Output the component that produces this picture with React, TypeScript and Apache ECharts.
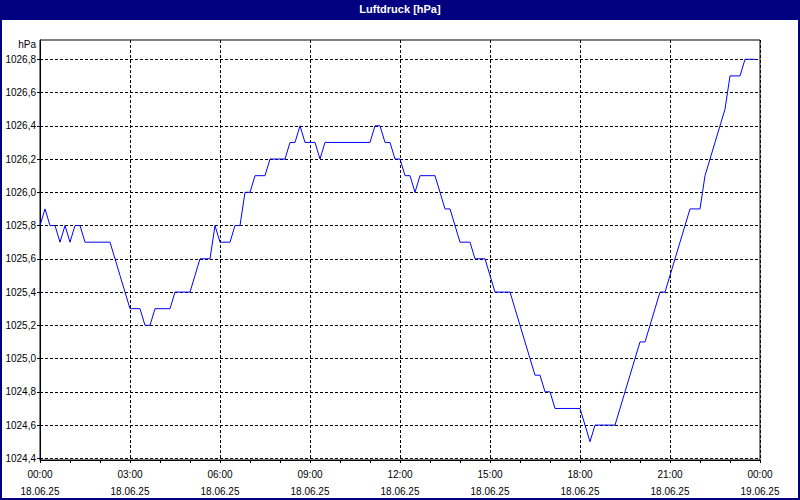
import React, { useRef, useEffect } from 'react';
import * as echarts from 'echarts';

// Luftdruck, 10-Minuten-Werte ab 18.06.25 00:00
const pressure = [
  1025.8, 1025.9, 1025.8, 1025.8, 1025.7, 1025.8, 1025.7, 1025.8, 1025.8, 1025.7,
  1025.7, 1025.7, 1025.7, 1025.7, 1025.7, 1025.6, 1025.5, 1025.4, 1025.3, 1025.3,
  1025.3, 1025.2, 1025.2, 1025.3, 1025.3, 1025.3, 1025.3, 1025.4, 1025.4, 1025.4,
  1025.4, 1025.5, 1025.6, 1025.6, 1025.6, 1025.8, 1025.7, 1025.7, 1025.7, 1025.8,
  1025.8, 1026.0, 1026.0, 1026.1, 1026.1, 1026.1, 1026.2, 1026.2, 1026.2, 1026.2,
  1026.3, 1026.3, 1026.4, 1026.3, 1026.3, 1026.3, 1026.2, 1026.3, 1026.3, 1026.3,
  1026.3, 1026.3, 1026.3, 1026.3, 1026.3, 1026.3, 1026.3, 1026.4, 1026.4, 1026.3,
  1026.3, 1026.2, 1026.2, 1026.1, 1026.1, 1026.0, 1026.1, 1026.1, 1026.1, 1026.1,
  1026.0, 1025.9, 1025.9, 1025.8, 1025.7, 1025.7, 1025.7, 1025.6, 1025.6, 1025.6,
  1025.5, 1025.4, 1025.4, 1025.4, 1025.4, 1025.3, 1025.2, 1025.1, 1025.0, 1024.9,
  1024.9, 1024.8, 1024.8, 1024.7, 1024.7, 1024.7, 1024.7, 1024.7, 1024.7, 1024.6,
  1024.5, 1024.6, 1024.6, 1024.6, 1024.6, 1024.6, 1024.7, 1024.8, 1024.9, 1025.0,
  1025.1, 1025.1, 1025.2, 1025.3, 1025.4, 1025.4, 1025.5, 1025.6, 1025.7, 1025.8,
  1025.9, 1025.9, 1025.9, 1026.1, 1026.2, 1026.3, 1026.4, 1026.5, 1026.7, 1026.7,
  1026.7, 1026.8, 1026.8, 1026.8,
];
const stepMinutes = 10;

const yTicks = [1024.4, 1024.6, 1024.8, 1025.0, 1025.2, 1025.4, 1025.6, 1025.8, 1026.0, 1026.2, 1026.4, 1026.6, 1026.8];
const dayLabels = ['18.06.25', '19.06.25'];

const FONT = 'Liberation Sans, Arial, sans-serif';

export default function App() {
  const chartRef = useRef<HTMLDivElement>(null);

  useEffect(() => {
    if (!chartRef.current) return;
    document.body.style.margin = '0';
    const chart = echarts.init(chartRef.current, null, { renderer: 'svg' });

    const data = pressure.map((v, i) => [(i * stepMinutes) / 60, v]);

    chart.setOption({
      animation: false,
      backgroundColor: '#ffffff',
      title: {
        text: 'Luftdruck [hPa]',
        left: 'center',
        top: 3,
        padding: 0,
        textStyle: { color: '#ffffff', fontSize: 11, fontWeight: 'bold', fontFamily: FONT },
      },
      graphic: [
        { type: 'rect', z: 0, shape: { x: 0, y: 0, width: 800, height: 20 }, style: { fill: '#000080' } },
        { type: 'rect', z: 0, shape: { x: 1, y: 1, width: 798, height: 498 }, style: { fill: 'none', stroke: '#000080', lineWidth: 2 } },
        {
          type: 'text',
          x: 36,
          y: 44,
          style: { text: 'hPa', fill: '#000000', font: `10px ${FONT}`, align: 'right', verticalAlign: 'middle' },
        },
      ],
      grid: {
        left: 40,
        right: 40,
        top: 40,
        bottom: 39,
        show: true,
        borderColor: '#000000',
        borderWidth: 1,
        backgroundColor: 'transparent',
      },
      xAxis: {
        type: 'value',
        min: 0,
        max: 24,
        interval: 3,
        axisLine: { show: true, lineStyle: { color: '#000000', width: 1 } },
        axisTick: { show: true, length: 3, lineStyle: { color: '#000000' } },
        minorTick: { show: true, splitNumber: 3, length: 3, lineStyle: { color: '#000000' } },
        splitLine: { show: true, lineStyle: { color: '#000000', type: [3, 2], width: 1 } },
        axisLabel: {
          margin: 6,
          color: '#000000',
          fontSize: 10,
          fontFamily: FONT,
          lineHeight: 17,
          formatter: (v: number) => {
            const h = Math.round(v) % 24;
            const day = dayLabels[Math.floor(Math.round(v) / 24)];
            return `${String(h).padStart(2, '0')}:00\n${day}`;
          },
        },
      },
      yAxis: {
        type: 'value',
        min: 1024.39,
        max: 1026.916,
        axisLine: { show: true, lineStyle: { color: '#000000', width: 1 } },
        axisTick: { show: true, length: 3, customValues: yTicks, lineStyle: { color: '#000000' } },
        splitLine: { show: true, customValues: yTicks, lineStyle: { color: '#000000', type: [3, 2], width: 1 } },
        axisLabel: {
          customValues: yTicks,
          margin: 4,
          color: '#000000',
          fontSize: 10,
          fontFamily: FONT,
          formatter: (v: number) => v.toFixed(1).replace('.', ','),
        },
      },
      series: [
        {
          type: 'line',
          data,
          showSymbol: false,
          symbol: 'none',
          lineStyle: { color: '#0000ff', width: 1 },
          z: 3,
        },
      ],
    });

    return () => {
      chart.dispose();
    };
  }, []);

  return <div ref={chartRef} style={{ width: '800px', height: '500px' }} />;
}
